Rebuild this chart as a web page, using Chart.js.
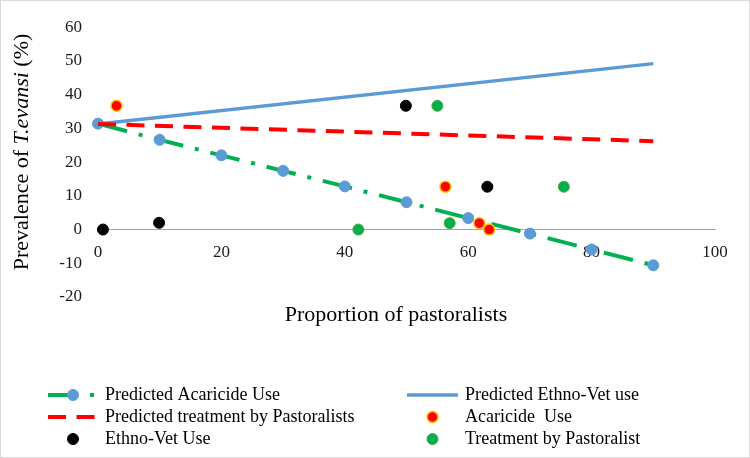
<!DOCTYPE html>
<html>
<head>
<meta charset="utf-8">
<title>Prevalence of T.evansi</title>
<script src="https://cdn.jsdelivr.net/npm/chart.js@4.4.0/dist/chart.umd.min.js"></script>
<style>
  html, body { margin: 0; padding: 0; background: #ffffff; }
  .chart-box { width: 748px; height: 456px; border: 1px solid #d9d9d9; position: relative; }
</style>
</head>
<body>
<div class="chart-box"><canvas id="prevalenceChart"></canvas></div>
<script>
// Predicted lines (x = proportion of pastoralists)
const predX = [0, 10, 20, 30, 40, 50, 60, 70, 80, 90];
const predAcaricide = [31.4, 26.6, 22, 17.4, 12.8, 8.1, 3.4, -1.2, -5.9, -10.6];
const trendX = [0, 90];
const predEthnoVet = [31.3, 49.2];
const predTreatment = [31.3, 26.2];

// Observed points
const acaricideX = [3, 56.3, 61.8, 63.4];
const acaricideY = [36.7, 12.7, 1.9, 0];
const ethnoVetX = [0.8, 9.9, 49.9, 63.1];
const ethnoVetY = [0, 2, 36.7, 12.7];
const treatmentX = [42.2, 55, 57, 75.5];
const treatmentY = [0, 36.7, 1.9, 12.7];

const xTitle = "Proportion of pastoralists";
const yTitleParts = [
  { text: "Prevalence of ", italic: false },
  { text: "T.evansi", italic: true },
  { text: " (%)", italic: false },
];

const serif = "'Liberation Serif', 'Times New Roman', serif";
const blue = "#5b9bd5";
const green = "#00b050";
const red = "#ff0000";

function toPoints(xs, ys) {
  return xs.map(function (x, i) {
    return { x: x, y: ys[i] };
  });
}

// axis titles + 2 column legend drawn on the canvas
const titlesAndLegend = {
  id: "titlesAndLegend",
  afterDraw(chart) {
    const c = chart.ctx;
    c.save();
    c.fillStyle = "#000000";
    c.textBaseline = "middle";

    // x title
    c.font = "22px " + serif;
    c.textAlign = "center";
    c.fillText(xTitle, 395, 314);

    // y title, rotated, with italic species name
    c.textAlign = "left";
    let total = 0;
    yTitleParts.forEach(function (p) {
      c.font = (p.italic ? "italic " : "") + "22px " + serif;
      total += c.measureText(p.text).width;
    });
    c.translate(21, 151);
    c.rotate(-Math.PI / 2);
    let pos = -total / 2;
    yTitleParts.forEach(function (p) {
      c.font = (p.italic ? "italic " : "") + "22px " + serif;
      c.fillText(p.text, pos, 0);
      pos += c.measureText(p.text).width;
    });
    c.setTransform(1, 0, 0, 1, 0, 0);

    // legend
    const cols = [
      { from: 47, to: 97, text: 104 },
      { from: 406, to: 457, text: 464 },
    ];
    c.font = "18px " + serif;
    chart.data.datasets.forEach(function (ds, i) {
      const col = cols[i % 2];
      const y = 394 + Math.floor(i / 2) * 22;
      const mid = (col.from + col.to) / 2;
      if (ds.showLine) {
        c.beginPath();
        c.strokeStyle = ds.borderColor;
        c.lineWidth = ds.borderWidth;
        c.setLineDash(ds.borderDash || []);
        c.moveTo(col.from, y);
        c.lineTo(col.to, y);
        c.stroke();
        c.setLineDash([]);
      }
      if (ds.pointRadius > 0) {
        c.beginPath();
        c.arc(mid, y, ds.pointRadius, 0, Math.PI * 2);
        c.fillStyle = ds.pointBackgroundColor;
        c.fill();
        c.lineWidth = ds.pointBorderWidth;
        c.strokeStyle = ds.pointBorderColor;
        c.stroke();
      }
      c.fillStyle = "#000000";
      c.fillText(ds.label, col.text, y);
    });
    c.restore();
  },
};

let ctx = document.getElementById("prevalenceChart").getContext("2d");
let data = {
  datasets: [
    {
      label: "Predicted Acaricide Use",
      data: toPoints(predX, predAcaricide),
      showLine: true,
      borderColor: green,
      borderWidth: 4,
      borderDash: [30, 12, 4, 12],
      pointRadius: 5.5,
      pointBackgroundColor: blue,
      pointBorderColor: blue,
      pointBorderWidth: 1,
      clip: false,
      order: 4,
    },
    {
      label: "Predicted Ethno-Vet use",
      data: toPoints(trendX, predEthnoVet),
      showLine: true,
      borderColor: blue,
      borderWidth: 3.5,
      pointRadius: 0,
      clip: false,
      order: 5,
    },
    {
      label: "Predicted treatment by Pastoralists",
      data: toPoints(trendX, predTreatment),
      showLine: true,
      borderColor: red,
      borderWidth: 4,
      borderDash: [18, 10.5],
      pointRadius: 0,
      clip: false,
      order: 3,
    },
    {
      label: "Acaricide  Use",
      data: toPoints(acaricideX, acaricideY),
      pointRadius: 5.5,
      pointBackgroundColor: red,
      pointBorderColor: "#ffc000",
      pointBorderWidth: 1.5,
      clip: false,
      order: 1,
    },
    {
      label: "Ethno-Vet Use",
      data: toPoints(ethnoVetX, ethnoVetY),
      pointRadius: 5.5,
      pointBackgroundColor: "#000000",
      pointBorderColor: "#000000",
      pointBorderWidth: 1,
      clip: false,
      order: 1,
    },
    {
      label: "Treatment by Pastoralist",
      data: toPoints(treatmentX, treatmentY),
      pointRadius: 5.5,
      pointBackgroundColor: green,
      pointBorderColor: "#4ea72e",
      pointBorderWidth: 1,
      clip: false,
      order: 1,
    },
  ],
};
let options = {
  responsive: true,
  maintainAspectRatio: false,
  animation: false,
  layout: {
    padding: { top: 21, right: 34, bottom: 160, left: 0 },
  },
  plugins: {
    legend: { display: false },
    tooltip: { enabled: false },
  },
  scales: {
    x: {
      type: "linear",
      min: 0,
      max: 100,
      position: { y: 0 },
      grid: { display: false, drawTicks: false },
      border: { display: true, color: "#a6a6a6", width: 1 },
      ticks: {
        stepSize: 20,
        padding: 13,
        color: "#1a1a1a",
        font: { family: serif, size: 17 },
      },
    },
    y: {
      type: "linear",
      min: -20,
      max: 60,
      grid: { display: false, drawTicks: false },
      border: { display: false },
      ticks: {
        stepSize: 10,
        padding: 16,
        color: "#1a1a1a",
        font: { family: serif, size: 17 },
      },
      afterFit: function (scale) {
        scale.width = 97;
      },
    },
  },
};
let prevalenceChart = new Chart(ctx, {
  type: "scatter",
  data: data,
  options: options,
  plugins: [titlesAndLegend],
});
</script>
</body>
</html>
